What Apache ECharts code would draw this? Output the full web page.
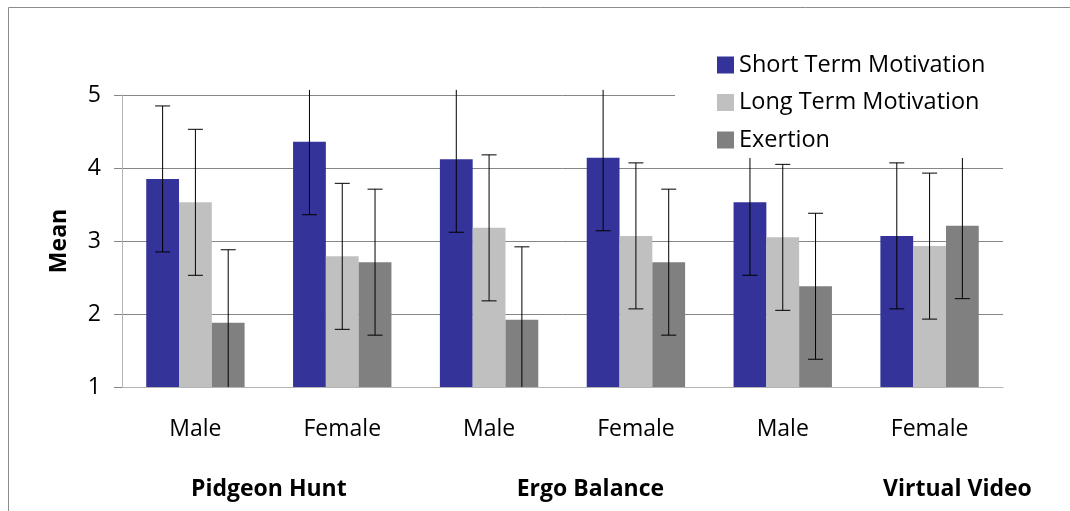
<!DOCTYPE html>
<html>
<head>
<meta charset="utf-8">
<script src="https://cdn.jsdelivr.net/npm/echarts@6/dist/echarts.min.js"></script>
<style>html,body{margin:0;padding:0;background:#fff;}#c{width:1070px;height:511px;}</style>
</head>
<body>
<div id="c"></div>
<script>
// ---- data ----
const categories = ['Male', 'Female', 'Male', 'Female', 'Male', 'Female'];
const groupLabels = ['Pidgeon Hunt', 'Ergo Balance', 'Virtual Video'];
const groupLabelPos = [1.0, 3.19, 5.69]; // position along the category scale (0..6)
const seriesNames = ['Short Term Motivation', 'Long Term Motivation', 'Exertion'];
const shortTerm = [3.85, 4.36, 4.12, 4.14, 3.53, 3.07];
const longTerm  = [3.53, 2.79, 3.18, 3.07, 3.05, 2.93];
const exertion  = [1.88, 2.71, 1.92, 2.71, 2.38, 3.21];
const errShort = [1, 1, 1, 1, 1, 1];
const errLong  = [1, 1, 1, 1, 1, 1];
const errExer  = [1, 1, 1, 1, 1, 1];
const yTicks = [1, 2, 3, 4, 5];

// ---- chart ----
const FONT = '"Open Sans", sans-serif';
const colors = ['#333399', '#C0C0C0', '#808080'];
const values = [shortTerm, longTerm, exertion];
const errs = [errShort, errLong, errExer];
const yMin = yTicks[0], yMax = yTicks[yTicks.length - 1];
const CAT_GAP = 0.33;

const chart = echarts.init(document.getElementById('c'), null, {renderer: 'canvas'});

function errSeries(k) {
  return {
    type: 'custom',
    name: seriesNames[k] + ' err',
    xAxisIndex: 0, yAxisIndex: 0,
    z: 3,
    silent: true,
    clip: false,
    data: values[k].map((v, i) => [i, v, errs[k][i]]),
    renderItem: function (params, api) {
      const i = api.value(0), v = api.value(1), e = api.value(2);
      const band = api.size([1, 0])[0];
      const bw = band * (1 - CAT_GAP) / 3;
      const hiV = v + e, loV = v - e;
      const hiC = Math.min(hiV, yMax + 0.07);
      const loC = Math.max(loV, yMin);
      const c = api.coord([i, v]);
      const x = c[0] + (k - 1) * bw;
      const yHi = api.coord([i, hiC])[1];
      const yLo = api.coord([i, loC])[1];
      const cap = 7.5;
      const st = {stroke: '#000', lineWidth: 1};
      const kids = [{type: 'line', shape: {x1: x, y1: yHi, x2: x, y2: yLo}, style: st}];
      if (hiC === hiV) kids.push({type: 'line', shape: {x1: x - cap, y1: yHi, x2: x + cap, y2: yHi}, style: st});
      if (loC === loV) kids.push({type: 'line', shape: {x1: x - cap, y1: yLo, x2: x + cap, y2: yLo}, style: st});
      return {type: 'group', children: kids};
    }
  };
}

const barSeries = seriesNames.map((n, k) => ({
  type: 'bar',
  name: n,
  xAxisIndex: 0, yAxisIndex: 0,
  data: values[k],
  barGap: '0%',
  barCategoryGap: (CAT_GAP * 100) + '%',
  itemStyle: {color: colors[k]},
  z: 2
}));

const option = {
  animation: false,
  backgroundColor: '#fff',
  textStyle: {fontFamily: FONT},
  grid: {left: 122, right: 67, top: 95, bottom: 124, containLabel: false},
  legend: {
    orient: 'vertical',
    left: 675, top: 43,
    padding: [10, 20, 6, 42],
    backgroundColor: '#fff',
    itemWidth: 17, itemHeight: 17,
    itemGap: 13.5,
    icon: 'rect',
    data: seriesNames,
    textStyle: {fontFamily: FONT, fontSize: 23.5, color: '#000', lineHeight: 24},
    z: 10
  },
  xAxis: [{
    type: 'category',
    data: categories,
    axisLine: {show: true, lineStyle: {color: '#B3B3B3', width: 1}},
    axisTick: {show: false},
    axisLabel: {fontFamily: FONT, fontSize: 23, color: '#000', margin: 31, interval: 0},
    splitLine: {show: false}
  }, {
    type: 'value',
    position: 'bottom',
    min: 0, max: categories.length,
    show: false
  }],
  yAxis: {
    type: 'value',
    min: yMin, max: yMax, interval: 1,
    name: 'Mean',
    nameLocation: 'middle',
    nameRotate: 90,
    nameGap: 51,
    nameTextStyle: {fontFamily: FONT, fontSize: 23, fontWeight: 'bold', color: '#000'},
    axisLine: {show: true, lineStyle: {color: '#B3B3B3', width: 1}},
    axisTick: {show: true, length: 8, lineStyle: {color: '#868686'}},
    axisLabel: {fontFamily: FONT, fontSize: 23, color: '#000', margin: 21},
    splitLine: {show: true, showMinLine: false, lineStyle: {color: '#868686', width: 1}}
  },
  graphic: [{
    type: 'rect',
    shape: {x: 8.5, y: 7.5, width: 1100, height: 600},
    style: {fill: 'none', stroke: '#8C8C8C', lineWidth: 1},
    silent: true, z: 0
  }],
  series: barSeries.concat([0, 1, 2].map(errSeries))
};
chart.setOption(option);

// group (second-level) category labels, placed through the hidden value x-axis scale
const baseY = chart.convertToPixel({yAxisIndex: 0}, yMin);
const groupTexts = groupLabels.map((g, j) => ({
  type: 'text',
  x: chart.convertToPixel({xAxisIndex: 1}, groupLabelPos[j]),
  y: baseY + 102,
  style: {text: g, fontFamily: FONT, fontSize: 23, fontWeight: 'bold', fill: '#000', align: 'center', verticalAlign: 'middle'},
  silent: true
}));
chart.setOption({graphic: option.graphic.concat(groupTexts)});
</script>
</body>
</html>
